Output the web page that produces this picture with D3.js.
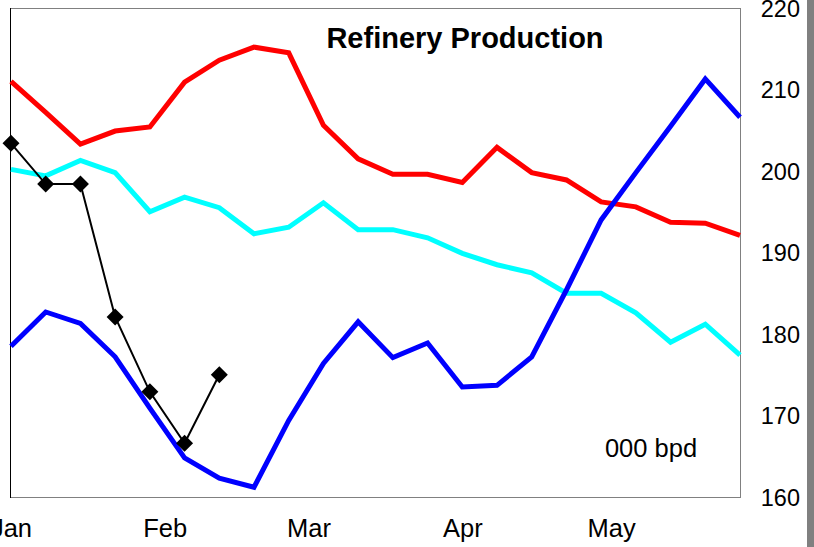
<!DOCTYPE html>
<html>
<head>
<meta charset="utf-8">
<script src="https://cdn.jsdelivr.net/npm/d3@7"></script>
<style>
  html, body { margin: 0; padding: 0; background: #fff; }
  svg { display: block; font-family: "Liberation Sans", Arial, sans-serif; }
</style>
</head>
<body>
<svg id="chart" width="814" height="547"></svg>
<script>
// Weekly observation dates
const weeks = [
  "2004-01-01","2004-01-08","2004-01-15","2004-01-22","2004-01-29","2004-02-05",
  "2004-02-12","2004-02-19","2004-02-26","2004-03-04","2004-03-11","2004-03-18",
  "2004-03-25","2004-04-01","2004-04-08","2004-04-15","2004-04-22","2004-04-29",
  "2004-05-06","2004-05-13","2004-05-20","2004-05-27"
];

// Series values, 000 bpd
const redSeries = [211.0, 207.2, 203.3, 204.9, 205.4, 210.9, 213.6, 215.2, 214.5, 205.6, 201.5,
                   199.6, 199.6, 198.6, 202.9, 199.8, 198.9, 196.2, 195.6, 193.7, 193.6, 192.1];
const cyanSeries = [200.2, 199.4, 201.3, 199.8, 195.0, 196.8, 195.5, 192.3, 193.1, 196.1, 192.8,
                    192.8, 191.8, 189.9, 188.5, 187.5, 185.0, 185.0, 182.6, 179.0, 181.2, 177.4];
const blueSeries = [178.5, 182.7, 181.3, 177.2, 170.9, 164.8, 162.3, 161.2, 169.4, 176.4, 181.5,
                    177.1, 178.9, 173.5, 173.7, 177.2, 185.4, 194.0, 199.8, 205.5, 211.3, 206.6];
const currentSeries = [203.4, 198.4, 198.4, 182.1, 172.9, 166.6, 175.0];

// Axis labels
const monthTicks = ["2004-01-01","2004-02-01","2004-03-01","2004-04-01","2004-05-01"];
const monthLabels = ["Jan","Feb","Mar","Apr","May"];
const yTicks = [160, 170, 180, 190, 200, 210, 220];

const parse = d3.utcParse("%Y-%m-%d");
const dates = weeks.map(parse);

const svg = d3.select("#chart");
const plot = { left: 11, right: 740, top: 8, bottom: 497 };

const x = d3.scaleUtc()
  .domain([dates[0], dates[dates.length - 1]])
  .range([plot.left, plot.right]);
const y = d3.scaleLinear().domain([160, 220]).range([plot.bottom, plot.top]);

// Grey strip along the right edge
svg.append("rect").attr("x", 807).attr("y", 0).attr("width", 7).attr("height", 547)
  .attr("fill", "#808080");

// Plot frame
svg.append("line").attr("x1", plot.left).attr("x2", plot.right + 1)
  .attr("y1", plot.top + 0.5).attr("y2", plot.top + 0.5).attr("stroke", "#808080");
svg.append("line").attr("x1", plot.left).attr("x2", plot.right + 1)
  .attr("y1", plot.bottom + 0.5).attr("y2", plot.bottom + 0.5).attr("stroke", "#808080");
svg.append("line").attr("x1", plot.right + 0.5).attr("x2", plot.right + 0.5)
  .attr("y1", plot.top).attr("y2", plot.bottom + 1).attr("stroke", "#808080");
svg.append("line").attr("x1", plot.left - 0.5).attr("x2", plot.left - 0.5)
  .attr("y1", plot.top).attr("y2", plot.bottom + 1).attr("stroke", "#000");

// Right value axis (labels only)
const yAxis = d3.axisRight(y).tickValues(yTicks).tickSize(0).tickPadding(0)
  .tickFormat(d3.format("d"));
const gy = svg.append("g").attr("transform", "translate(800,0)").call(yAxis);
gy.select(".domain").remove();
gy.selectAll("text").attr("text-anchor", "end").attr("dy", "0.36em")
  .attr("font-size", 23.5).attr("font-family", "Liberation Sans, Arial, sans-serif").attr("fill", "#000");

// Month axis (labels only)
const xAxis = d3.axisBottom(x).tickValues(monthTicks.map(parse)).tickSize(0).tickPadding(0)
  .tickFormat((d, i) => monthLabels[i]);
const gx = svg.append("g").attr("transform", "translate(0,519)").call(xAxis);
gx.select(".domain").remove();
gx.selectAll("text").attr("dy", "0.71em")
  .attr("font-size", 25.5).attr("font-family", "Liberation Sans, Arial, sans-serif").attr("fill", "#000");

// Lines
const line = d3.line().x((d, i) => x(dates[i])).y(d => y(d));
const series = [
  { values: redSeries, color: "#ff0000" },
  { values: cyanSeries, color: "#00ffff" },
  { values: blueSeries, color: "#0000ff" }
];
series.forEach(s => {
  svg.append("path").datum(s.values).attr("d", line)
    .attr("fill", "none").attr("stroke", s.color).attr("stroke-width", 5)
    .attr("stroke-linejoin", "miter").attr("stroke-linecap", "butt");
});

svg.append("path").datum(currentSeries).attr("d", line)
  .attr("fill", "none").attr("stroke", "#000").attr("stroke-width", 2);

const r = 8.5;
svg.append("g").selectAll("path").data(currentSeries).join("path")
  .attr("transform", (d, i) => `translate(${x(dates[i])},${y(d)})`)
  .attr("d", `M0,${-r}L${r},0L0,${r}L${-r},0Z`)
  .attr("fill", "#000");

// Title and unit note
svg.append("text").attr("x", 465).attr("y", 48).attr("text-anchor", "middle")
  .attr("font-size", 29).attr("font-weight", "bold").attr("fill", "#000")
  .text("Refinery Production");
svg.append("text").attr("x", 651).attr("y", 457).attr("text-anchor", "middle")
  .attr("font-size", 25.5).attr("fill", "#000").text("000 bpd");
</script>
</body>
</html>
